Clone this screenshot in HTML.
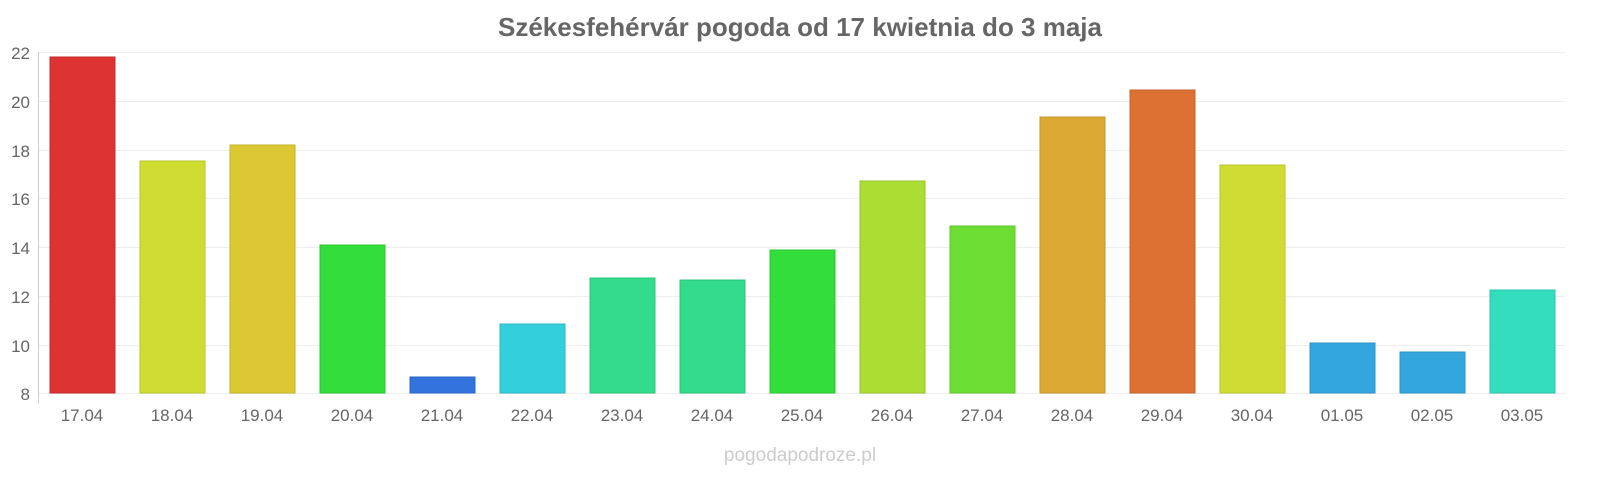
<!DOCTYPE html>
<html><head><meta charset="utf-8"><style>
body{margin:0;background:#fff;font-family:"Liberation Sans",sans-serif;}
</style></head><body>
<svg width="1600" height="480" xmlns="http://www.w3.org/2000/svg" font-family="Liberation Sans, sans-serif">
<rect width="1600" height="480" fill="#fff"/>
<text x="800" y="36" text-anchor="middle" font-size="26" font-weight="bold" fill="#666">Székesfehérvár pogoda od 17 kwietnia do 3 maja</text>
<g stroke="#eee" stroke-width="1">
<line x1="38" x2="1565" y1="52.5" y2="52.5"/>
<line x1="38" x2="1565" y1="101.5" y2="101.5"/>
<line x1="38" x2="1565" y1="150.5" y2="150.5"/>
<line x1="38" x2="1565" y1="198.5" y2="198.5"/>
<line x1="38" x2="1565" y1="247.5" y2="247.5"/>
<line x1="38" x2="1565" y1="296.5" y2="296.5"/>
<line x1="38" x2="1565" y1="345.5" y2="345.5"/>
<line x1="38" x2="1565" y1="393.5" y2="393.5"/>
</g>
<line x1="38.5" x2="38.5" y1="52" y2="403" stroke="#ccc"/>
<g font-size="17" fill="#666" text-anchor="end">
<text x="30" y="59">22</text><text x="30" y="108">20</text><text x="30" y="157">18</text>
<text x="30" y="205">16</text><text x="30" y="254">14</text><text x="30" y="303">12</text>
<text x="30" y="352">10</text><text x="30" y="400">8</text>
</g>
<g stroke-width="1">
<rect x="50" y="57" width="65" height="336" fill="#dd3333" stroke="#c52b2b"/>
<rect x="140" y="161" width="65" height="232" fill="#cfdd33" stroke="#b9c52b"/>
<rect x="230" y="145" width="65" height="248" fill="#dcc833" stroke="#c4b22b"/>
<rect x="320" y="245" width="65" height="148" fill="#33dd3a" stroke="#2bc532"/>
<rect x="410" y="377" width="65" height="16" fill="#3373dd" stroke="#2b66c5"/>
<rect x="500" y="324" width="65" height="69" fill="#33cfdd" stroke="#2bb9c5"/>
<rect x="590" y="278" width="65" height="115" fill="#33dc8c" stroke="#2bc47c"/>
<rect x="680" y="280" width="65" height="113" fill="#33dc8c" stroke="#2bc47c"/>
<rect x="770" y="250" width="65" height="143" fill="#33dd3a" stroke="#2bc532"/>
<rect x="860" y="181" width="65" height="212" fill="#acdd33" stroke="#99c52b"/>
<rect x="950" y="226" width="65" height="167" fill="#6cdd33" stroke="#60c52b"/>
<rect x="1040" y="117" width="65" height="276" fill="#dcaa33" stroke="#c4972b"/>
<rect x="1130" y="90" width="65" height="303" fill="#dd7033" stroke="#c5632b"/>
<rect x="1220" y="165" width="65" height="228" fill="#cfdd33" stroke="#b9c52b"/>
<rect x="1310" y="343" width="65" height="50" fill="#33a6dd" stroke="#2b94c5"/>
<rect x="1400" y="352" width="65" height="41" fill="#33a6dd" stroke="#2b94c5"/>
<rect x="1490" y="290" width="65" height="103" fill="#33ddbd" stroke="#2bc5a8"/>
</g>
<g font-size="17" fill="#666" text-anchor="middle">
<text x="82" y="421">17.04</text><text x="172" y="421">18.04</text><text x="262" y="421">19.04</text>
<text x="352" y="421">20.04</text><text x="442" y="421">21.04</text><text x="532" y="421">22.04</text>
<text x="622" y="421">23.04</text><text x="712" y="421">24.04</text><text x="802" y="421">25.04</text>
<text x="892" y="421">26.04</text><text x="982" y="421">27.04</text><text x="1072" y="421">28.04</text>
<text x="1162" y="421">29.04</text><text x="1252" y="421">30.04</text><text x="1342" y="421">01.05</text>
<text x="1432" y="421">02.05</text><text x="1522" y="421">03.05</text>
</g>
<text x="800" y="461" text-anchor="middle" font-size="19" fill="#ccc">pogodapodroze.pl</text>
</svg>
</body></html>
